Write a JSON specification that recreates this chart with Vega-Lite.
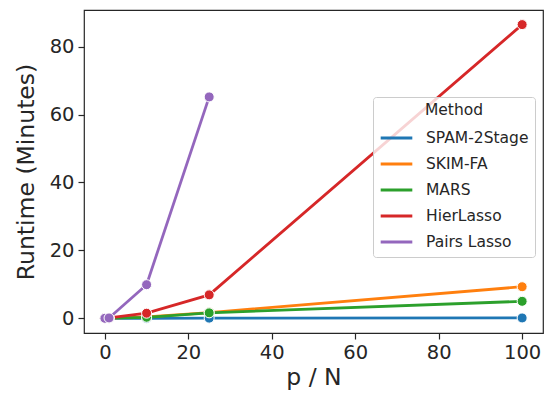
{
  "$schema": "https://vega.github.io/schema/vega-lite/v6.json",
  "width": 459,
  "height": 323,
  "autosize": {"type": "none"},
  "padding": {"left": 84, "top": 10, "right": 1, "bottom": 66},
  "config": {
    "font": "DejaVu Sans",
    "view": {"stroke": "#262626", "strokeWidth": 1.2},
    "axis": {
      "grid": false,
      "domain": false,
      "tickColor": "#262626",
      "tickSize": 6,
      "tickWidth": 1.2,
      "labelFont": "DejaVu Sans",
      "labelFontSize": 19.5,
      "labelColor": "#262626",
      "titleFont": "DejaVu Sans",
      "titleFontSize": 23.5,
      "titleFontWeight": "normal",
      "titleColor": "#262626",
      "labelPadding": 4
    }
  },
  "data": {
    "values": [
      {"pn": 0, "t": 0, "m": "SPAM-2Stage"},
      {"pn": 1, "t": 0, "m": "SPAM-2Stage"},
      {"pn": 10, "t": 0, "m": "SPAM-2Stage"},
      {"pn": 25, "t": 0.05, "m": "SPAM-2Stage"},
      {"pn": 100, "t": 0.1, "m": "SPAM-2Stage"},
      {"pn": 0, "t": 0, "m": "SKIM-FA"},
      {"pn": 1, "t": 0.05, "m": "SKIM-FA"},
      {"pn": 10, "t": 0.4, "m": "SKIM-FA"},
      {"pn": 25, "t": 1.7, "m": "SKIM-FA"},
      {"pn": 100, "t": 9.3, "m": "SKIM-FA"},
      {"pn": 0, "t": 0, "m": "MARS"},
      {"pn": 1, "t": 0.03, "m": "MARS"},
      {"pn": 10, "t": 0.3, "m": "MARS"},
      {"pn": 25, "t": 1.6, "m": "MARS"},
      {"pn": 100, "t": 5.0, "m": "MARS"},
      {"pn": 0, "t": 0, "m": "HierLasso"},
      {"pn": 1, "t": 0.1, "m": "HierLasso"},
      {"pn": 10, "t": 1.5, "m": "HierLasso"},
      {"pn": 25, "t": 6.9, "m": "HierLasso"},
      {"pn": 100, "t": 86.5, "m": "HierLasso"},
      {"pn": 0, "t": 0, "m": "Pairs Lasso"},
      {"pn": 1, "t": 0.1, "m": "Pairs Lasso"},
      {"pn": 10, "t": 9.9, "m": "Pairs Lasso"},
      {"pn": 25, "t": 65.2, "m": "Pairs Lasso"}
    ]
  },
  "encoding": {
    "x": {
      "field": "pn", "type": "quantitative", "title": "p / N",
      "scale": {"domain": [-5, 105], "nice": false, "zero": false},
      "axis": {"values": [0, 20, 40, 60, 80, 100], "titlePadding": 4}
    },
    "y": {
      "field": "t", "type": "quantitative", "title": "Runtime (Minutes)",
      "scale": {"domain": [-4.33, 90.8], "nice": false, "zero": false},
      "axis": {"values": [0, 20, 40, 60, 80], "titlePadding": 11}
    },
    "color": {
      "field": "m", "type": "nominal",
      "sort": ["SPAM-2Stage", "SKIM-FA", "MARS", "HierLasso", "Pairs Lasso"],
      "scale": {
        "domain": ["SPAM-2Stage", "SKIM-FA", "MARS", "HierLasso", "Pairs Lasso"],
        "range": ["#1f77b4", "#ff7f0e", "#2ca02c", "#d62728", "#9467bd"]
      },
      "legend": {
        "title": "Method",
        "orient": "none",
        "legendX": 289,
        "legendY": 87,
        "symbolType": "stroke",
        "symbolStrokeWidth": 3,
        "symbolSize": 1000,
        "titleFont": "DejaVu Sans",
        "titleFontSize": 15.5,
        "titleFontWeight": "normal",
        "titleColor": "#262626",
        "titleAnchor": "middle",
        "titlePadding": 2,
        "labelFont": "DejaVu Sans",
        "labelFontSize": 15.5,
        "labelColor": "#262626",
        "labelOffset": 12,
        "rowPadding": 0,
        "strokeColor": "#cccccc",
        "fillColor": "rgba(255,255,255,0.8)",
        "cornerRadius": 3,
        "padding": 6
      }
    }
  },
  "layer": [
    {"mark": {"type": "line", "strokeWidth": 2.8}},
    {"mark": {"type": "point", "filled": true, "size": 100, "opacity": 1, "stroke": "white", "strokeWidth": 1}}
  ]
}
